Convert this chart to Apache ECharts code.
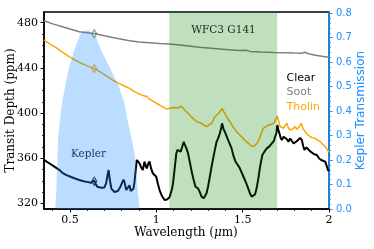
<!DOCTYPE html>
<html><head><meta charset="utf-8">
<script src="https://cdn.jsdelivr.net/npm/echarts@6/dist/echarts.min.js"></script>
<style>html,body{margin:0;padding:0;background:#fff}#c{width:374px;height:249px}</style>
</head><body><div id="c"></div>
<script>
const CLEAR_WL=[0.350,0.380,0.410,0.440,0.457,0.480,0.500,0.530,0.554,0.580,0.605,0.622,0.632,0.641,0.650,0.660,0.670,0.685,0.699,0.710,0.718,0.724,0.730,0.740,0.748,0.758,0.767,0.778,0.790,0.800,0.810,0.816,0.826,0.835,0.845,0.852,0.860,0.868,0.874,0.880,0.887,0.895,0.903,0.912,0.922,0.932,0.939,0.945,0.953,0.961,0.970,0.980,0.990,1.000,1.010,1.019,1.033,1.048,1.062,1.077,1.090,1.097,1.106,1.116,1.123,1.130,1.141,1.150,1.159,1.165,1.175,1.184,1.195,1.203,1.215,1.227,1.242,1.252,1.262,1.275,1.291,1.300,1.310,1.322,1.335,1.349,1.358,1.368,1.375,1.381,1.389,1.397,1.406,1.416,1.426,1.436,1.447,1.459,1.472,1.484,1.498,1.513,1.528,1.542,1.552,1.562,1.572,1.581,1.592,1.601,1.614,1.627,1.640,1.655,1.669,1.680,1.688,1.695,1.701,1.707,1.713,1.720,1.727,1.737,1.746,1.755,1.765,1.775,1.785,1.795,1.804,1.813,1.823,1.833,1.843,1.850,1.858,1.870,1.881,1.891,1.901,1.915,1.930,1.942,1.955,1.966,1.978,1.987,1.994,2.000];
const CLEAR_PPM=[358.5,355.5,352.5,349.5,347.0,345.0,343.8,342.0,340.7,339.6,338.8,338.2,339.5,340.2,337.0,334.5,333.3,333.8,334.0,338.0,345.0,349.5,342.0,333.0,332.5,330.0,329.0,331.0,334.0,333.0,341.0,339.0,331.8,333.5,336.0,331.0,330.3,333.0,339.0,348.0,358.4,357.0,355.5,352.0,349.5,357.0,353.0,351.0,355.0,357.0,351.0,346.6,345.5,343.6,337.0,331.8,326.5,323.0,323.5,325.5,332.0,337.8,350.0,364.3,367.5,368.7,365.7,370.0,374.6,372.0,368.5,364.3,356.0,349.5,341.5,334.7,333.3,330.0,326.0,324.5,328.9,335.0,343.6,354.0,364.3,374.6,377.5,382.0,386.0,390.9,386.0,383.4,380.0,376.0,372.5,368.7,362.0,356.9,354.0,351.0,346.0,340.7,335.0,329.0,326.0,324.5,328.0,333.3,343.0,352.5,362.8,366.0,368.7,370.5,373.2,375.0,379.0,382.0,389.4,385.0,382.0,378.0,376.0,379.0,380.5,377.0,374.6,377.5,376.0,373.0,372.0,375.0,374.6,378.0,376.0,371.0,367.3,369.5,368.7,366.0,364.3,363.5,362.8,360.0,358.4,357.5,356.9,353.0,349.5,348.5];

const THOLIN_WL=[0.350,0.380,0.420,0.460,0.496,0.530,0.560,0.600,0.641,0.680,0.715,0.748,0.780,0.815,0.845,0.875,0.905,0.932,0.940,0.946,0.955,0.971,0.995,1.019,1.048,1.065,1.077,1.090,1.097,1.106,1.116,1.125,1.135,1.145,1.155,1.165,1.184,1.200,1.223,1.240,1.262,1.278,1.291,1.305,1.320,1.330,1.339,1.350,1.362,1.372,1.381,1.390,1.397,1.410,1.426,1.445,1.465,1.480,1.494,1.515,1.533,1.550,1.562,1.572,1.585,1.601,1.610,1.620,1.635,1.649,1.665,1.678,1.690,1.701,1.710,1.717,1.727,1.736,1.746,1.756,1.765,1.775,1.790,1.804,1.813,1.823,1.832,1.839,1.850,1.862,1.876,1.891,1.905,1.920,1.935,1.949,1.963,1.978,1.990,2.000];
const THOLIN_PPM=[464.7,461.5,458.0,453.5,450.0,447.0,444.5,441.8,439.4,436.0,432.5,429.2,426.5,424.0,421.9,419.0,416.5,415.0,413.5,414.8,413.0,411.5,409.2,407.1,404.5,403.5,404.2,404.5,404.2,405.0,406.2,404.5,404.2,406.0,405.0,402.5,399.8,397.0,393.8,392.0,390.9,389.0,388.0,389.5,390.9,393.5,396.7,398.0,399.8,402.0,404.2,401.5,399.8,396.0,392.3,387.5,383.5,381.0,379.0,375.5,373.2,371.0,370.2,370.2,373.5,379.0,383.0,386.5,388.0,389.4,390.0,390.9,393.5,397.4,392.0,388.0,389.5,386.5,389.0,390.9,387.0,385.0,386.0,388.0,385.5,386.5,389.0,390.9,386.0,383.4,381.0,379.0,378.0,377.6,376.0,374.6,372.5,370.2,367.5,365.5];

const SOOT_WL=[0.350,0.400,0.457,0.500,0.554,0.600,0.641,0.700,0.748,0.800,0.845,0.900,0.961,1.020,1.077,1.150,1.250,1.368,1.420,1.484,1.520,1.543,1.601,1.680,1.750,1.800,1.840,1.862,1.880,1.930,1.970,2.000];
const SOOT_PPM=[481.8,479.0,476.5,474.5,472.0,471.2,470.4,468.5,467.0,465.4,464.0,463.0,462.3,461.6,461.1,460.0,458.3,456.7,456.0,455.4,455.6,454.6,454.0,453.6,453.5,453.2,453.0,453.8,452.5,451.0,450.0,449.4];

const KEPLER_WL=[0.415,0.419,0.422,0.427,0.432,0.437,0.442,0.450,0.457,0.466,0.475,0.485,0.496,0.503,0.510,0.518,0.525,0.535,0.545,0.552,0.558,0.564,0.570,0.575,0.580,0.584,0.588,0.593,0.598,0.603,0.608,0.613,0.618,0.625,0.632,0.641,0.650,0.660,0.670,0.680,0.692,0.705,0.716,0.728,0.740,0.750,0.762,0.775,0.785,0.795,0.803,0.810,0.817,0.822,0.828,0.833,0.842,0.850,0.862,0.874,0.880,0.885,0.891,0.898,0.903,0.906];
const KEPLER_T=[0.0,0.005,0.09,0.20,0.29,0.33,0.36,0.41,0.445,0.475,0.51,0.545,0.58,0.598,0.612,0.632,0.65,0.668,0.688,0.700,0.708,0.719,0.722,0.716,0.728,0.722,0.731,0.726,0.734,0.724,0.733,0.727,0.722,0.729,0.718,0.72,0.70,0.685,0.668,0.65,0.632,0.615,0.598,0.582,0.565,0.55,0.532,0.515,0.496,0.475,0.46,0.446,0.428,0.41,0.385,0.364,0.335,0.31,0.27,0.23,0.19,0.15,0.09,0.04,0.005,0.0];

const MARK_WL=0.641;
const MARK_SOOT=470.3, MARK_THOLIN=439.3, MARK_CLEAR=339.6;
const WFC3_RANGE=[1.075,1.70];
const X_LABELS=[0.5,1,1.5,2];
const X_MINOR=[0.4,0.6,0.7,0.8,0.9,1.1,1.2,1.3,1.4,1.6,1.7,1.8,1.9];
const Y_LABELS=[320,360,400,440,480];
const Y_MINOR=[330,340,350,370,380,390,410,420,430,450,460,470];
const T_LABELS=[0,0.1,0.2,0.3,0.4,0.5,0.6,0.7,0.8];
const T_MINOR=[];
for(let i=1;i<40;i++){ if(i%5!==0) T_MINOR.push(+(i*0.02).toFixed(2)); }

const zip=(a,b)=>a.map((v,i)=>[v,b[i]]);
const SERIF='DejaVu Serif', SANS='DejaVu Sans';
const BLUE='#1e90ff';
const chart=echarts.init(document.getElementById('c'),null,{renderer:'canvas'});
const hid={show:false};
chart.setOption({
  animation:false,
  grid:{left:44,right:45,top:12,bottom:40,show:true,borderColor:'#000',borderWidth:1.5,backgroundColor:'transparent'},
  xAxis:[
    {type:'value',min:0.35,max:2.0,position:'bottom',
     axisLine:{show:true,lineStyle:{color:'#000',width:1.5}},
     axisTick:{show:true,customValues:X_LABELS,length:3.5,lineStyle:{color:'#000',width:1}},
     axisLabel:{show:true,customValues:X_LABELS,formatter:v=>String(v),fontFamily:SERIF,fontSize:11,color:'#000',margin:6},
     splitLine:hid},
    {type:'value',min:0.35,max:2.0,position:'bottom',
     axisLine:hid,
     axisTick:{show:true,customValues:X_MINOR,length:2,lineStyle:{color:'#000',width:0.8}},
     axisLabel:hid,splitLine:hid}
  ],
  yAxis:[
    {type:'value',min:315,max:489.5,position:'left',
     axisLine:{show:true,lineStyle:{color:'#000',width:1.5}},
     axisTick:{show:true,customValues:Y_LABELS,length:3.5,lineStyle:{color:'#000',width:1}},
     axisLabel:{show:true,customValues:Y_LABELS,fontFamily:SERIF,fontSize:11,color:'#000',margin:6},
     splitLine:hid},
    {type:'value',min:0,max:0.805,position:'right',offset:0,
     axisLine:{show:true,lineStyle:{color:BLUE,width:1.5}},
     axisTick:{show:true,customValues:T_LABELS,length:3.5,lineStyle:{color:BLUE,width:1}},
     axisLabel:{show:true,customValues:T_LABELS,formatter:v=>v.toFixed(1),fontFamily:SANS,fontSize:10,color:BLUE,margin:7},
     splitLine:hid},
    {type:'value',min:315,max:489.5,position:'left',offset:0,
     axisLine:hid,
     axisTick:{show:true,customValues:Y_MINOR,length:2,lineStyle:{color:'#000',width:0.8}},
     axisLabel:hid,splitLine:hid},
    {type:'value',min:0,max:0.805,position:'right',offset:0,
     axisLine:hid,
     axisTick:{show:true,customValues:T_MINOR,length:2,lineStyle:{color:BLUE,width:0.8}},
     axisLabel:hid,splitLine:hid}
  ],
  series:[
    {name:'Soot',type:'line',xAxisIndex:0,yAxisIndex:0,data:zip(SOOT_WL,SOOT_PPM),showSymbol:false,
     lineStyle:{color:'#808080',width:1.5},z:2},
    {name:'Tholin',type:'line',xAxisIndex:0,yAxisIndex:0,data:zip(THOLIN_WL,THOLIN_PPM),showSymbol:false,
     lineStyle:{color:'#ffa500',width:1.5},z:3},
    {name:'Clear',type:'line',xAxisIndex:0,yAxisIndex:0,data:zip(CLEAR_WL,CLEAR_PPM),showSymbol:false,
     lineStyle:{color:'#000',width:2},z:4},
    {name:'marks',type:'scatter',xAxisIndex:0,yAxisIndex:0,
     data:[
       {value:[MARK_WL,MARK_SOOT],itemStyle:{borderColor:'#808080'}},
       {value:[MARK_WL,MARK_THOLIN],itemStyle:{borderColor:'#ffa500'}},
       {value:[MARK_WL,MARK_CLEAR],itemStyle:{borderColor:'#000'}}
     ],
     symbol:'diamond',symbolSize:[5,8],itemStyle:{color:'rgba(255,255,255,0)',borderWidth:1.3},z:5},
    {name:'Kepler',type:'line',xAxisIndex:0,yAxisIndex:1,data:zip(KEPLER_WL,KEPLER_T),showSymbol:false,
     lineStyle:{width:0},areaStyle:{color:'rgba(30,144,255,0.3)',opacity:1},z:10,
     markArea:{silent:true,z:20,itemStyle:{color:'rgba(0,128,0,0.25)'},
       data:[[{xAxis:WFC3_RANGE[0]},{xAxis:WFC3_RANGE[1]}]]}}
  ],
  graphic:[
    {type:'text',z:100,x:88.5,y:154.5,style:{text:'Kepler',font:'10.5px "DejaVu Serif"',fill:'#1c3c64',textAlign:'center',textVerticalAlign:'middle'}},
    {type:'text',z:100,x:223.5,y:30,style:{text:'WFC3 G141',font:'10.5px "DejaVu Serif"',fill:'#142a14',textAlign:'center',textVerticalAlign:'middle'}},
    {type:'text',z:100,x:286.5,y:78.5,style:{text:'Clear',font:'11px "DejaVu Sans"',fill:'#000',textAlign:'left',textVerticalAlign:'middle'}},
    {type:'text',z:100,x:286.5,y:92.5,style:{text:'Soot',font:'11px "DejaVu Sans"',fill:'#808080',textAlign:'left',textVerticalAlign:'middle'}},
    {type:'text',z:100,x:286.5,y:107.5,style:{text:'Tholin',font:'11px "DejaVu Sans"',fill:'#ffa500',textAlign:'left',textVerticalAlign:'middle'}},
    {type:'text',z:100,x:11,y:110.5,rotation:Math.PI/2,style:{text:'Transit Depth (ppm)',font:'12px "DejaVu Serif"',fill:'#000',textAlign:'center',textVerticalAlign:'middle'}},
    {type:'text',z:100,x:361,y:110.5,rotation:Math.PI/2,style:{text:'Kepler Transmission',font:'12px "DejaVu Sans"',fill:BLUE,textAlign:'center',textVerticalAlign:'middle'}},
    {type:'text',z:100,x:186,y:233,style:{text:'{a|Wavelength (}{b|μ}{a|m)}',textAlign:'center',textVerticalAlign:'middle',
      rich:{a:{font:'12px "DejaVu Serif"',fill:'#000'},b:{font:'italic 12px "DejaVu Serif"',fill:'#000'}}}}
  ]
});
</script>
</body></html>
